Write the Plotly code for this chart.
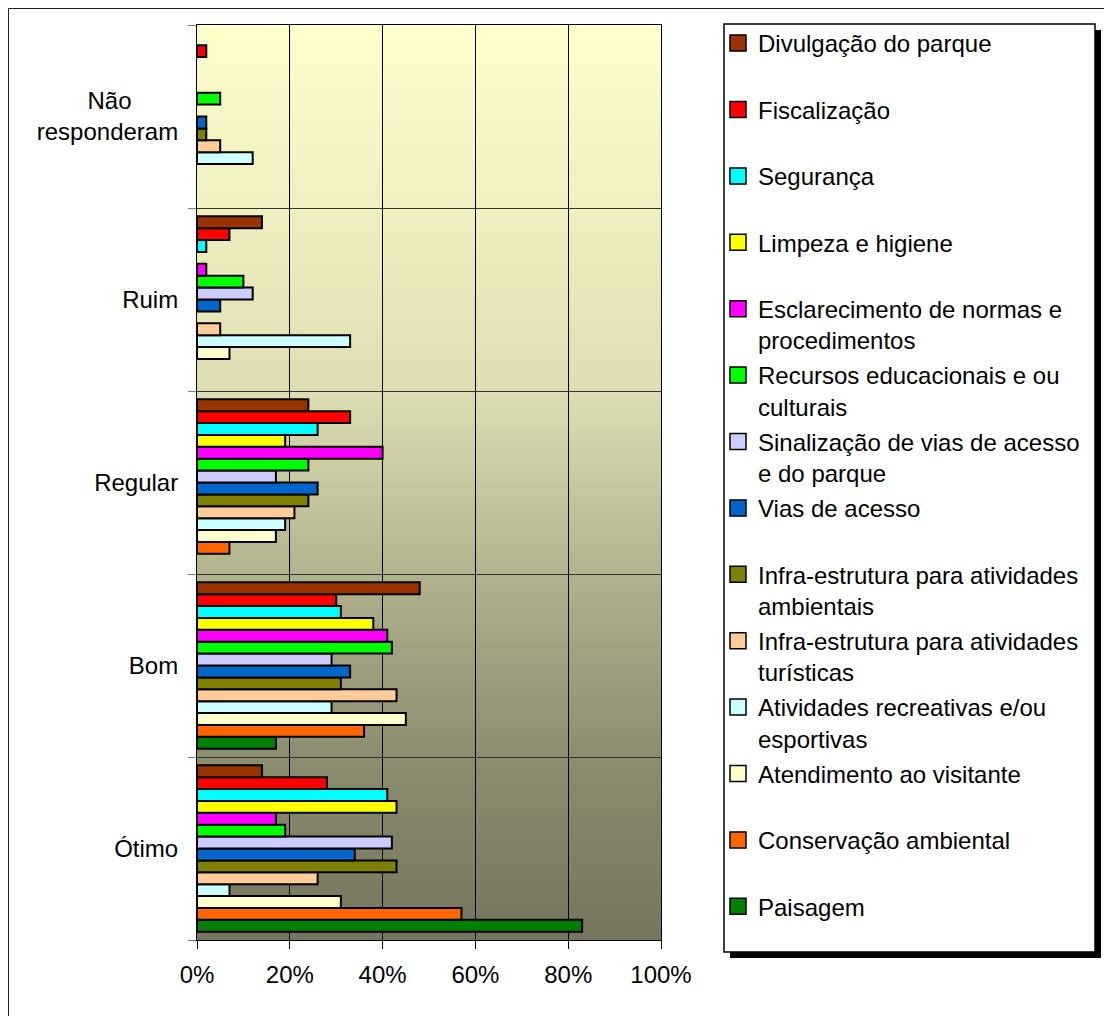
import plotly.graph_objects as go

# categories bottom -> top
categorias = ["Ótimo", "Bom", "Regular", "Ruim", "Não responderam"]
rotulos_y = ["Ótimo", "Bom", "Regular", "Ruim",
             "Não" + "\u00a0" * 7 + "<br>responderam"]

# percentual por categoria (Ótimo, Bom, Regular, Ruim, Não responderam)
paisagem = [83, 17, None, None, None]
conservacao = [57, 36, 7, None, None]
atendimento = [31, 45, 17, 7, None]
atividades = [7, 29, 19, 33, 12]
infra_turisticas = [26, 43, 21, 5, 5]
infra_ambientais = [43, 31, 24, None, 2]
vias = [34, 33, 26, 5, 2]
sinalizacao = [42, 29, 17, 12, None]
recursos = [19, 42, 24, 10, 5]
esclarecimento = [17, 41, 40, 2, None]
limpeza = [43, 38, 19, None, None]
seguranca = [41, 31, 26, 2, None]
fiscalizacao = [28, 30, 33, 7, 2]
divulgacao = [14, 48, 24, 14, None]

# drawn bottom -> top inside each group; legend shows them top -> bottom
series = [
    ("Paisagem<br>\u00a0", paisagem, "#008000"),
    ("Conservação ambiental<br>\u00a0", conservacao, "#FF6600"),
    ("Atendimento ao visitante<br>\u00a0", atendimento, "#FFFFCC"),
    ("Atividades recreativas e/ou<br>esportivas", atividades, "#CCFFFF"),
    ("Infra-estrutura para atividades<br>turísticas", infra_turisticas, "#FFCC99"),
    ("Infra-estrutura para atividades<br>ambientais", infra_ambientais, "#808000"),
    ("Vias de acesso<br>\u00a0", vias, "#0066CC"),
    ("Sinalização de vias de acesso<br>e do parque", sinalizacao, "#CCCCFF"),
    ("Recursos educacionais e ou<br>culturais", recursos, "#00FF00"),
    ("Esclarecimento de normas e<br>procedimentos", esclarecimento, "#FF00FF"),
    ("Limpeza e higiene<br>\u00a0", limpeza, "#FFFF00"),
    ("Segurança<br>\u00a0", seguranca, "#00FFFF"),
    ("Fiscalização<br>\u00a0", fiscalizacao, "#FF0000"),
    ("Divulgação do parque<br>\u00a0", divulgacao, "#993300"),
]

FONT = "Liberation Sans, Arial, sans-serif"

fig = go.Figure()
for i, (nome, valores, cor) in enumerate(series):
    fig.add_trace(go.Bar(
        y=categorias,
        x=valores,
        name=nome,
        orientation="h",
        legendgroup=str(i),
        showlegend=False,
        marker=dict(color=cor, line=dict(color="black", width=2)),
    ))
    # legend entry with a bigger square swatch
    fig.add_trace(go.Scatter(
        x=[None], y=[None],
        mode="markers",
        name=nome,
        legendgroup=str(i),
        legendrank=1000 - i,
        marker=dict(symbol="square", size=16, color=cor,
                    line=dict(color="black", width=1.5)),
        hoverinfo="skip",
    ))

# figure size and plot area (figure pixel coords; page body adds 8px offset)
W, H = 1104, 1008
L, R, T, B = 189, 653, 17, 932


def px(x):
    return (x - L) / (R - L)


def py(y):
    return (B - y) / (B - T)


shapes = []

# gradient background made of thin strips
stops = [(0.0, (255, 255, 204)), (0.4, (222, 222, 178)), (0.6, (178, 178, 142)),
         (0.8, (140, 140, 112)), (1.0, (118, 118, 94))]
n = 120
for k in range(n):
    f = (k + 0.5) / n
    for j in range(len(stops) - 1):
        if stops[j][0] <= f <= stops[j + 1][0]:
            a, ca = stops[j]
            b, cb = stops[j + 1]
            t = (f - a) / (b - a)
            c = tuple(round(ca[m] + (cb[m] - ca[m]) * t) for m in range(3))
            break
    shapes.append(dict(
        type="rect", xref="x domain", yref="y domain",
        x0=0, x1=1, y0=1 - (k + 1) / n - 0.001, y1=1 - k / n,
        fillcolor="rgb(%d,%d,%d)" % c, line=dict(width=0), layer="below",
    ))

# outer chart border: left and top edges only
shapes.append(dict(type="line", xref="paper", yref="paper",
                   x0=px(0.5), x1=px(0.5), y0=py(H), y1=py(0.5),
                   line=dict(color="#222222", width=1)))
shapes.append(dict(type="line", xref="paper", yref="paper",
                   x0=px(0.5), x1=px(W), y0=py(0.5), y1=py(0.5),
                   line=dict(color="#222222", width=1)))
# legend shadow + box
shapes.append(dict(type="rect", xref="paper", yref="paper",
                   x0=px(722), x1=px(1093), y0=py(950), y1=py(22),
                   fillcolor="black", line=dict(width=0)))
shapes.append(dict(type="rect", xref="paper", yref="paper",
                   x0=px(716), x1=px(1087), y0=py(944), y1=py(16),
                   fillcolor="white", line=dict(color="black", width=1.5)))

fig.update_layout(
    width=W, height=H,
    margin=dict(l=L, r=W - R, t=T, b=H - B),
    paper_bgcolor="white",
    plot_bgcolor="rgba(0,0,0,0)",
    font=dict(family=FONT, size=24, color="black"),
    barmode="group",
    bargap=0.09,
    bargroupgap=0,
    shapes=shapes,
    showlegend=True,
    legend=dict(
        x=px(710), y=py(13), xanchor="left", yanchor="top",
        bgcolor="rgba(0,0,0,0)", borderwidth=0,
        traceorder="grouped", tracegroupgap=1,
        valign="top", maxheight=990,
        itemsizing="trace",
        font=dict(family=FONT, size=24, color="black"),
    ),
)

fig.update_xaxes(
    range=[0, 100], dtick=20, ticksuffix="%",
    showgrid=True, gridcolor="black", gridwidth=1,
    zeroline=False,
    showline=True, linecolor="black", linewidth=1, mirror=True,
    ticks="outside", ticklen=8, tickcolor="black",
    ticklabelstandoff=5,
    tickfont=dict(family=FONT, size=24),
)
fig.update_yaxes(
    type="category",
    tickvals=categorias, ticktext=rotulos_y,
    tickson="boundaries",
    showgrid=True, gridcolor="#333333", gridwidth=1,
    showline=True, linecolor="black", linewidth=1, mirror=True,
    ticks="outside", ticklen=8, tickcolor="#808080",
    ticklabelstandoff=13,
    tickfont=dict(family=FONT, size=24),
)

fig.write_html("out.html")
